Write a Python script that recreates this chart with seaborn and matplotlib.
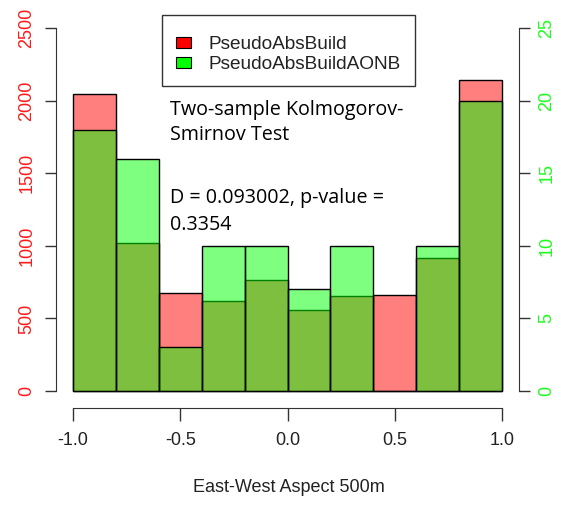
import numpy as np
import matplotlib
matplotlib.use("Agg")
import matplotlib.pyplot as plt
import seaborn as sns
from matplotlib.patches import Patch, Rectangle

# Data
bin_edges = [-1.0, -0.8, -0.6, -0.4, -0.2, 0.0, 0.2, 0.4, 0.6, 0.8, 1.0]
red_counts = [2045, 1020, 678, 620, 762, 555, 655, 660, 916, 2145]   # PseudoAbsBuild (left axis)
green_counts = [18, 16, 3, 10, 10, 7, 10, 0, 10, 20]                 # PseudoAbsBuildAONB (right axis)
left_ticks = [0, 500, 1000, 1500, 2000, 2500]
right_ticks = [0, 5, 10, 15, 20, 25]
x_ticks = [-1.0, -0.5, 0.0, 0.5, 1.0]
x_ticklabels = ["-1.0", "-0.5", "0.0", "0.5", "1.0"]
legend_labels = ["PseudoAbsBuild", "PseudoAbsBuildAONB"]
xlabel = "East-West Aspect 500m"
annot_lines = ["Two-sample Kolmogorov-", "Smirnov Test", "D = 0.093002, p-value =", "0.3354"]

sns.set_style("white")
plt.rcParams['font.family'] = ['Liberation Sans', 'DejaVu Sans']

W, H = 567, 505
fig = plt.figure(figsize=(W / 100, H / 100), dpi=100)

# axes in pixel coordinates
left_px, right_px, top_px, bottom_px = 56, 519, 13.5, 407
ax = fig.add_axes([left_px / W, 1 - bottom_px / H, (right_px - left_px) / W, (bottom_px - top_px) / H])
ax.set_facecolor("none")

centers = [(a + b) / 2 for a, b in zip(bin_edges[:-1], bin_edges[1:])]

sns.histplot(x=centers, weights=red_counts, bins=bin_edges, ax=ax,
             color=(1, 0, 0), alpha=0.5, edgecolor="black", linewidth=1.0)
ax2 = ax.twinx()
sns.histplot(x=centers, weights=green_counts, bins=bin_edges, ax=ax2,
             color=(0, 1, 0), alpha=0.5, edgecolor="black", linewidth=1.0)

# y scales: 0 at 391 px, top tick at 28 px
y0_px, ytop_px = 391, 28
def lims(top_val):
    per = (y0_px - ytop_px) / top_val
    return (-(bottom_px - y0_px) / per, top_val + (ytop_px - top_px) / per)

ax.set_ylim(*lims(2500))
ax2.set_ylim(*lims(25))
ax.set_xlim(-1.08, 1.08)
ax2.set_xlim(-1.08, 1.08)

for a in (ax, ax2):
    for s in a.spines.values():
        s.set_visible(False)
    a.set_ylabel("")
    a.set_xlabel("")

# left axis
ax.spines['left'].set_visible(True)
ax.spines['left'].set_bounds(0, 2500)
ax.spines['left'].set_color('#333333')
ax.set_yticks(left_ticks)
ax.set_yticklabels([str(t) for t in left_ticks], rotation=90, va='center', color='#ff1a1a', fontsize=13)
ax.tick_params(axis='y', which='both', left=True, length=8, width=1, color='#333333', pad=7)

# right axis
ax2.spines['right'].set_visible(True)
ax2.spines['right'].set_bounds(0, 25)
ax2.spines['right'].set_color('#333333')
ax2.set_yticks(right_ticks)
ax2.set_yticklabels([str(t) for t in right_ticks], rotation=90, va='center', color='#1aff1a', fontsize=13)
ax2.tick_params(axis='y', which='both', right=True, length=8, width=1, color='#333333', pad=6)

# bottom axis
ax.spines['bottom'].set_visible(True)
ax.spines['bottom'].set_bounds(-1, 1)
ax.spines['bottom'].set_color('#333333')
ax.spines['bottom'].set_position(('outward', 1))
ax.set_xticks(x_ticks)
ax.set_xticklabels(x_ticklabels, fontsize=13, color='#222222')
ax.tick_params(axis='x', which='both', bottom=True, length=9, width=1, color='#333333', pad=8)
ax2.tick_params(axis='x', bottom=False, labelbottom=False)

fig.text(289 / W, 1 - 488 / H, xlabel, ha='center', va='center', fontsize=13, color='#222222')

# legend box (R-style, text sits low in the box)
fig.patches.append(Rectangle((162 / W, 1 - 86 / H), (415 - 162) / W, (86 - 15) / H,
                             transform=fig.transFigure, facecolor='white',
                             edgecolor='#333333', linewidth=1, zorder=5))
handles = [Patch(facecolor='red', edgecolor='black', linewidth=0.8),
           Patch(facecolor=(0, 1, 0), edgecolor='black', linewidth=0.8)]
leg = fig.legend(handles, legend_labels, loc='upper left',
                 bbox_to_anchor=(162 / W, 1 - 22 / H), fontsize=13.7,
                 frameon=False,
                 handlelength=0.8, handleheight=0.55, handletextpad=0.9,
                 borderpad=0.75, labelspacing=0.15, borderaxespad=0)
leg.set_zorder(6)
for t in leg.get_texts():
    t.set_color('#222222')

# annotation
for line, y in zip(annot_lines, [110, 135, 198, 225]):
    fig.text(170 / W, 1 - y / H, line, ha='left', va='center', fontsize=14.2,
             family=['Open Sans', 'DejaVu Sans'], color='black')

fig.savefig("out.png", dpi=100)
